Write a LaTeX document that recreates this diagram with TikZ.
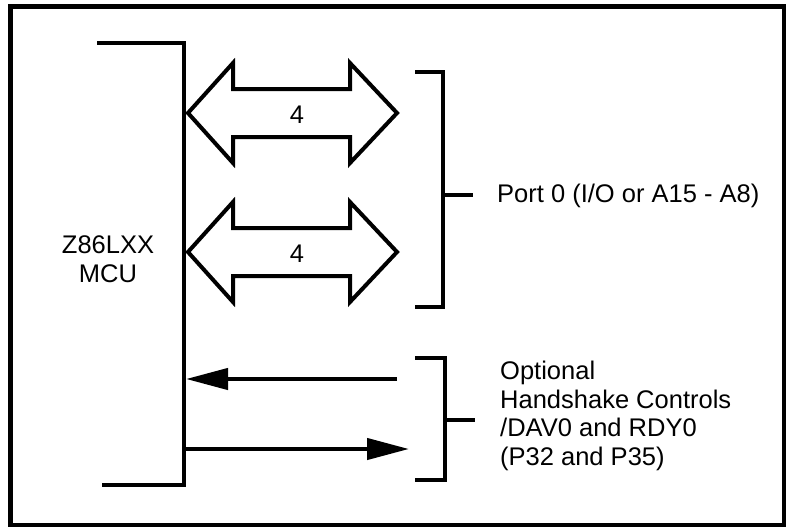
\documentclass[tikz,border=0pt]{standalone}
\usepackage{fontspec}
\setmainfont{Liberation Sans}
\usetikzlibrary{arrows.meta}
\begin{document}
\begin{tikzpicture}[x=1pt,y=-1pt,
  thick line/.style={line width=4.3pt},
  bus/.style={line width=4pt, line join=miter, fill=white},
  sig/.style={line width=4.3pt, -{Triangle[length=42pt,width=21pt]}},
  lbl/.style={font=\fontsize{25.5}{28.5}\selectfont, inner sep=0pt},
  txt/.style={font=\fontsize{25.5}{28.5}\selectfont, inner sep=0pt, align=left, anchor=west}]
\useasboundingbox (0,0) rectangle (787,527);
% frame
\draw[line width=4.5pt] (10.5,6.5) rectangle (784,525);
% MCU bracket
\draw[thick line] (97,43) -- (184,43) -- (184,485) -- (102,485);
\node[lbl, align=center] (mcu) at (108,259) {Z86LXX\\MCU};
% double arrows (buses)
\foreach \dy/\n in {0/a,139/b}{
  \draw[bus] (188,113+\dy) -- (233,63+\dy) -- (233,89+\dy) -- (350,89+\dy) -- (350,63+\dy)
    -- (397,113+\dy) -- (350,163+\dy) -- (350,137+\dy) -- (233,137+\dy) -- (233,163+\dy) -- cycle;
  \node[lbl] (bus\n) at (297,115+\dy) {4};
}
% port 0 bracket
\draw[thick line] (415,72) -- (443,72) -- (443,307) -- (415,307);
\coordinate (p0) at (443,195);
\node[txt] (port) at (497,196) {Port 0 (I/O or A15 - A8)};
\draw[thick line] (p0) -- (473,195);
% handshake bracket
\draw[thick line] (415,358) -- (445,358) -- (445,480) -- (415,480);
\coordinate (hs) at (445,420);
\node[txt] (hand) at (500,416) {Optional\\Handshake Controls\\/DAV0 and RDY0\\(P32 and P35)};
\draw[thick line] (hs) -- (475,420);
% signal arrows
\coordinate (inS) at (397,379);
\coordinate (inE) at (186,379);
\coordinate (outS) at (184,449);
\coordinate (outE) at (409,449);
\draw[sig] (inS) -- (inE);
\draw[sig] (outS) -- (outE);
\end{tikzpicture}
\end{document}
